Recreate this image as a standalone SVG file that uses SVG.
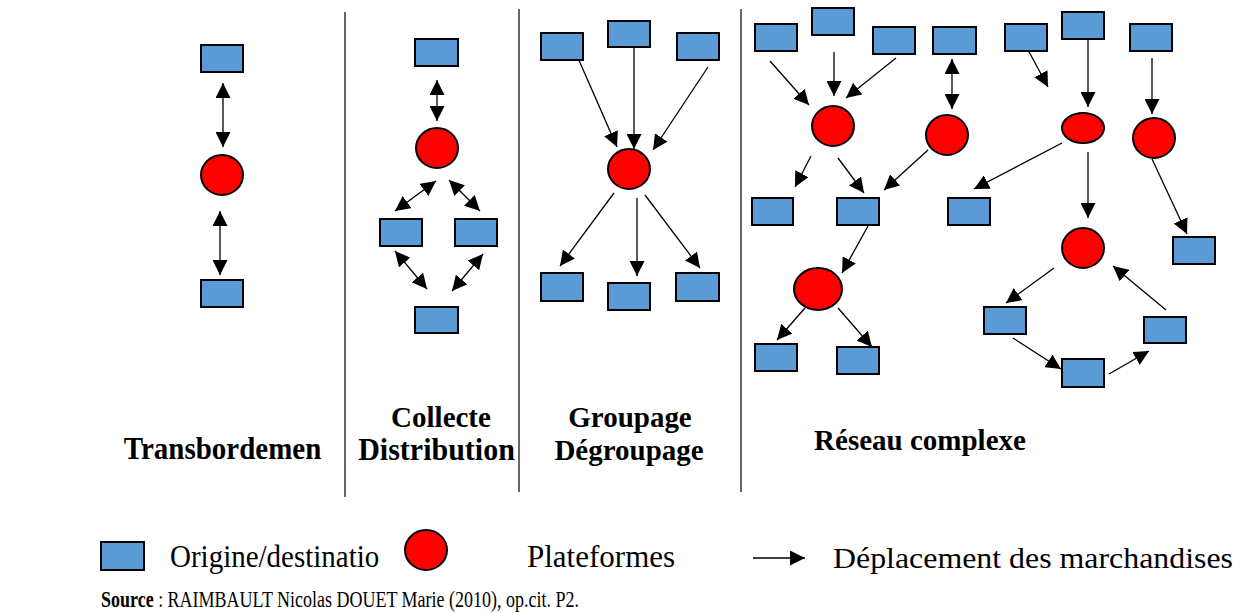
<svg xmlns="http://www.w3.org/2000/svg" width="1244" height="613" viewBox="0 0 1244 613">
<style>
.od{fill:#5B9BD5;stroke:#000;stroke-width:2}
.pf{fill:#FF0000;stroke:#000;stroke-width:2}
.cn line{stroke:#000;stroke-width:1.3;marker-end:url(#ah)}
.cn line.d{marker-start:url(#ah)}
.dv{stroke:#333;stroke-width:1.5}
.h{font-family:"Liberation Serif","Times New Roman",serif;font-weight:bold;fill:#000}
.t{font-family:"Liberation Serif","Times New Roman",serif;fill:#000}
</style>
<defs>
<marker id="ah" viewBox="0 0 15 15" refX="15" refY="7.5" markerWidth="15" markerHeight="15" markerUnits="userSpaceOnUse" orient="auto-start-reverse"><path d="M0,0 L15,7.5 L0,15 z" fill="#000"/></marker>
</defs>
<rect width="1244" height="613" fill="#fff"/>
<g id="dividers">
<line class="dv" x1="345" y1="12" x2="345" y2="497"/>
<line class="dv" x1="519" y1="9" x2="519" y2="492"/>
<line class="dv" x1="741" y1="9" x2="741" y2="492"/>
</g>
<g id="connectors" class="cn">
<line class="d" x1="223" y1="83" x2="223" y2="147"/>
<line class="d" x1="220" y1="211" x2="220" y2="275"/>
<line class="d" x1="437" y1="80" x2="437" y2="121"/>
<line class="d" x1="436" y1="181" x2="395" y2="211"/>
<line class="d" x1="449" y1="180" x2="480" y2="211"/>
<line class="d" x1="395" y1="251" x2="427" y2="289"/>
<line class="d" x1="483" y1="254" x2="452" y2="291"/>
<line x1="578" y1="58" x2="617" y2="147"/>
<line x1="634" y1="47" x2="634" y2="149"/>
<line x1="708" y1="67" x2="653" y2="150"/>
<line x1="614" y1="193" x2="560" y2="266"/>
<line x1="637" y1="198" x2="637" y2="276"/>
<line x1="645" y1="195" x2="700" y2="268"/>
<line x1="770" y1="61" x2="809" y2="105"/>
<line x1="834" y1="52" x2="834" y2="96"/>
<line x1="896" y1="58" x2="846" y2="98"/>
<line class="d" x1="952" y1="59" x2="952" y2="109"/>
<line x1="1027" y1="48" x2="1048" y2="87"/>
<line x1="1088" y1="39" x2="1088" y2="107"/>
<line x1="1152" y1="58" x2="1152" y2="114"/>
<line x1="811" y1="156" x2="795" y2="187"/>
<line x1="838" y1="158" x2="864" y2="193"/>
<line x1="928" y1="150" x2="884" y2="190"/>
<line x1="1062" y1="143" x2="974" y2="189"/>
<line x1="1088" y1="152" x2="1088" y2="218"/>
<line x1="1152" y1="159" x2="1187" y2="234"/>
<line x1="868" y1="226" x2="842" y2="273"/>
<line x1="805" y1="308" x2="777" y2="340"/>
<line x1="838" y1="308" x2="872" y2="347"/>
<line x1="1054" y1="268" x2="1006" y2="303"/>
<line x1="1013" y1="338" x2="1061" y2="369"/>
<line x1="1109" y1="374" x2="1149" y2="351"/>
<line x1="1166" y1="310" x2="1113" y2="266"/>
</g>
<g id="transbordement">
<rect class="od" x="201" y="45" width="42" height="27"/>
<ellipse class="pf" cx="222" cy="175" rx="21" ry="20"/>
<rect class="od" x="201" y="280" width="42" height="27"/>
<text class="h" font-size="29" text-anchor="middle" transform="translate(222.5 459) scale(1 1.12)">Transbordemen</text>
</g>
<g id="collecte">
<rect class="od" x="415" y="39" width="43" height="27"/>
<ellipse class="pf" cx="437" cy="148" rx="21" ry="20"/>
<rect class="od" x="380" y="219" width="42" height="27"/>
<rect class="od" x="455" y="219" width="42" height="27"/>
<rect class="od" x="415" y="307" width="43" height="26"/>
<text class="h" font-size="29" text-anchor="middle" transform="translate(441 427) scale(1 1.05)">Collecte</text>
<text class="h" font-size="30" text-anchor="middle" transform="translate(436.5 460) scale(1 1.05)">Distribution</text>
</g>
<g id="groupage">
<rect class="od" x="541" y="33" width="42" height="27"/>
<rect class="od" x="608" y="21" width="42" height="26"/>
<rect class="od" x="677" y="33" width="42" height="27"/>
<ellipse class="pf" cx="629" cy="169" rx="21" ry="20"/>
<rect class="od" x="541" y="273" width="42" height="28"/>
<rect class="od" x="608" y="283" width="42" height="27"/>
<rect class="od" x="676" y="273" width="43" height="28"/>
<text class="h" font-size="29" text-anchor="middle" transform="translate(630 427) scale(1 1.05)">Groupage</text>
<text class="h" font-size="29" text-anchor="middle" transform="translate(629 460) scale(1 1.05)">Dégroupage</text>
</g>
<g id="reseau">
<rect class="od" x="755" y="24" width="42" height="27"/>
<rect class="od" x="812" y="8" width="42" height="27"/>
<rect class="od" x="873" y="27" width="42" height="27"/>
<rect class="od" x="933" y="27" width="43" height="27"/>
<rect class="od" x="1005" y="24" width="42" height="27"/>
<rect class="od" x="1062" y="12" width="42" height="27"/>
<rect class="od" x="1130" y="24" width="42" height="27"/>
<ellipse class="pf" cx="833" cy="126" rx="21" ry="20"/>
<ellipse class="pf" cx="947" cy="135" rx="21" ry="20"/>
<ellipse class="pf" cx="1083" cy="128" rx="21" ry="15"/>
<ellipse class="pf" cx="1154" cy="138" rx="21" ry="20"/>
<ellipse class="pf" cx="1083" cy="248" rx="21" ry="20"/>
<ellipse class="pf" cx="818" cy="289" rx="24" ry="21"/>
<rect class="od" x="752" y="198" width="41" height="27"/>
<rect class="od" x="837" y="198" width="42" height="27"/>
<rect class="od" x="948" y="198" width="42" height="27"/>
<rect class="od" x="1173" y="237" width="42" height="27"/>
<rect class="od" x="984" y="307" width="42" height="27"/>
<rect class="od" x="1144" y="317" width="42" height="26"/>
<rect class="od" x="1062" y="359" width="42" height="28"/>
<rect class="od" x="755" y="344" width="42" height="27"/>
<rect class="od" x="837" y="347" width="42" height="27"/>
<text class="h" font-size="29" text-anchor="middle" x="920" y="450">Réseau complexe</text>
</g>
<g id="legend">
<rect class="od" x="101" y="542" width="43" height="28"/>
<text class="t" font-size="29" transform="translate(170 567) scale(1 1.1)">Origine/destinatio</text>
<ellipse class="pf" cx="426" cy="550" rx="21" ry="20"/>
<text class="t" font-size="31" x="527" y="567">Plateformes</text>
<line x1="753" y1="558" x2="805" y2="558" stroke="#000" stroke-width="1.3" marker-end="url(#ah)"/>
<text class="t" font-size="29" x="833" y="568" textLength="400" lengthAdjust="spacingAndGlyphs">Déplacement des marchandises</text>
</g>
<g id="source">
<text class="t" font-size="18" transform="translate(101 607) scale(1 1.25)"><tspan font-weight="bold">Source</tspan> : RAIMBAULT Nicolas DOUET Marie (2010), op.cit. P2.</text>
</g>
</svg>
